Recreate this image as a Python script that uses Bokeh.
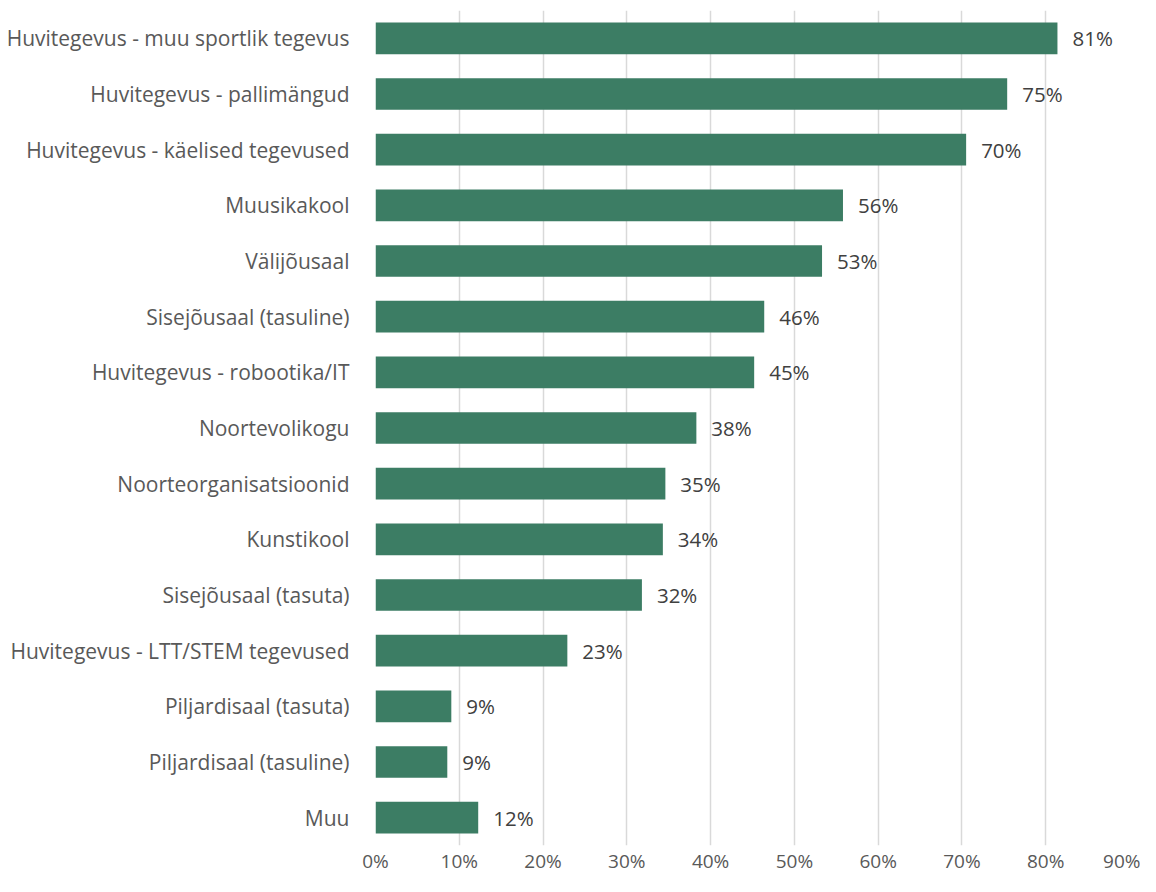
from bokeh.plotting import figure
from bokeh.models import ColumnDataSource, FactorRange, Range1d, FixedTicker, NumeralTickFormatter
from bokeh.core.properties import value
from bokeh.embed import file_html
from bokeh.resources import INLINE

categories = [
    "Huvitegevus - muu sportlik tegevus",
    "Huvitegevus - pallimängud",
    "Huvitegevus - käelised tegevused",
    "Muusikakool",
    "Välijõusaal",
    "Sisejõusaal (tasuline)",
    "Huvitegevus - robootika/IT",
    "Noortevolikogu",
    "Noorteorganisatsioonid",
    "Kunstikool",
    "Sisejõusaal (tasuta)",
    "Huvitegevus - LTT/STEM tegevused",
    "Piljardisaal (tasuta)",
    "Piljardisaal (tasuline)",
    "Muu",
]
values = [0.814, 0.754, 0.705, 0.558, 0.533, 0.464, 0.452, 0.383, 0.346, 0.343, 0.318, 0.229, 0.0905, 0.0857, 0.1226]
labels = ["81%", "75%", "70%", "56%", "53%", "46%", "45%", "38%", "35%", "34%", "32%", "23%", "9%", "9%", "12%"]
x_ticks = [0.0, 0.1, 0.2, 0.3, 0.4, 0.5, 0.6, 0.7, 0.8, 0.9]

FONT = "Open Sans"
source = ColumnDataSource(data=dict(cat=categories, val=values, lab=labels))

p = figure(
    width=1140, height=876,
    y_range=FactorRange(factors=list(reversed(categories)), range_padding=0),
    x_range=Range1d(0, 0.9),
    output_backend="svg", toolbar_location=None,
    min_border_left=375, min_border_right=11, min_border_top=10, min_border_bottom=22,
)
p.outline_line_color = None

p.hbar(y="cat", right="val", left=0, height=0.57, source=source,
       fill_color="#3C7D64", line_color=None)

p.text(x="val", y="cat", text="lab", source=source, x_offset=15,
       text_baseline="middle", text_align="left",
       text_font=value(FONT), text_font_size="20.5px", text_color="#404040")

p.xaxis.ticker = FixedTicker(ticks=x_ticks)
p.xaxis.formatter = NumeralTickFormatter(format="0%")
p.xaxis.axis_line_color = None
p.xaxis.major_tick_line_color = None
p.xaxis.minor_tick_line_color = None
p.xaxis.major_label_text_font = FONT
p.xaxis.major_label_text_font_size = "19px"
p.xaxis.major_label_text_color = "#595959"
p.xaxis.major_label_standoff = -4

p.yaxis.axis_line_color = None
p.yaxis.major_tick_line_color = None
p.yaxis.minor_tick_line_color = None
p.yaxis.major_label_text_font = FONT
p.yaxis.major_label_text_font_size = "21px"
p.yaxis.major_label_text_color = "#595959"
p.yaxis.major_label_standoff = 20

p.ygrid.grid_line_color = None
p.xgrid.grid_line_color = "#D9D9D9"
p.xgrid.grid_line_width = 1.5

open("out.html", "w").write(file_html(p, INLINE))
